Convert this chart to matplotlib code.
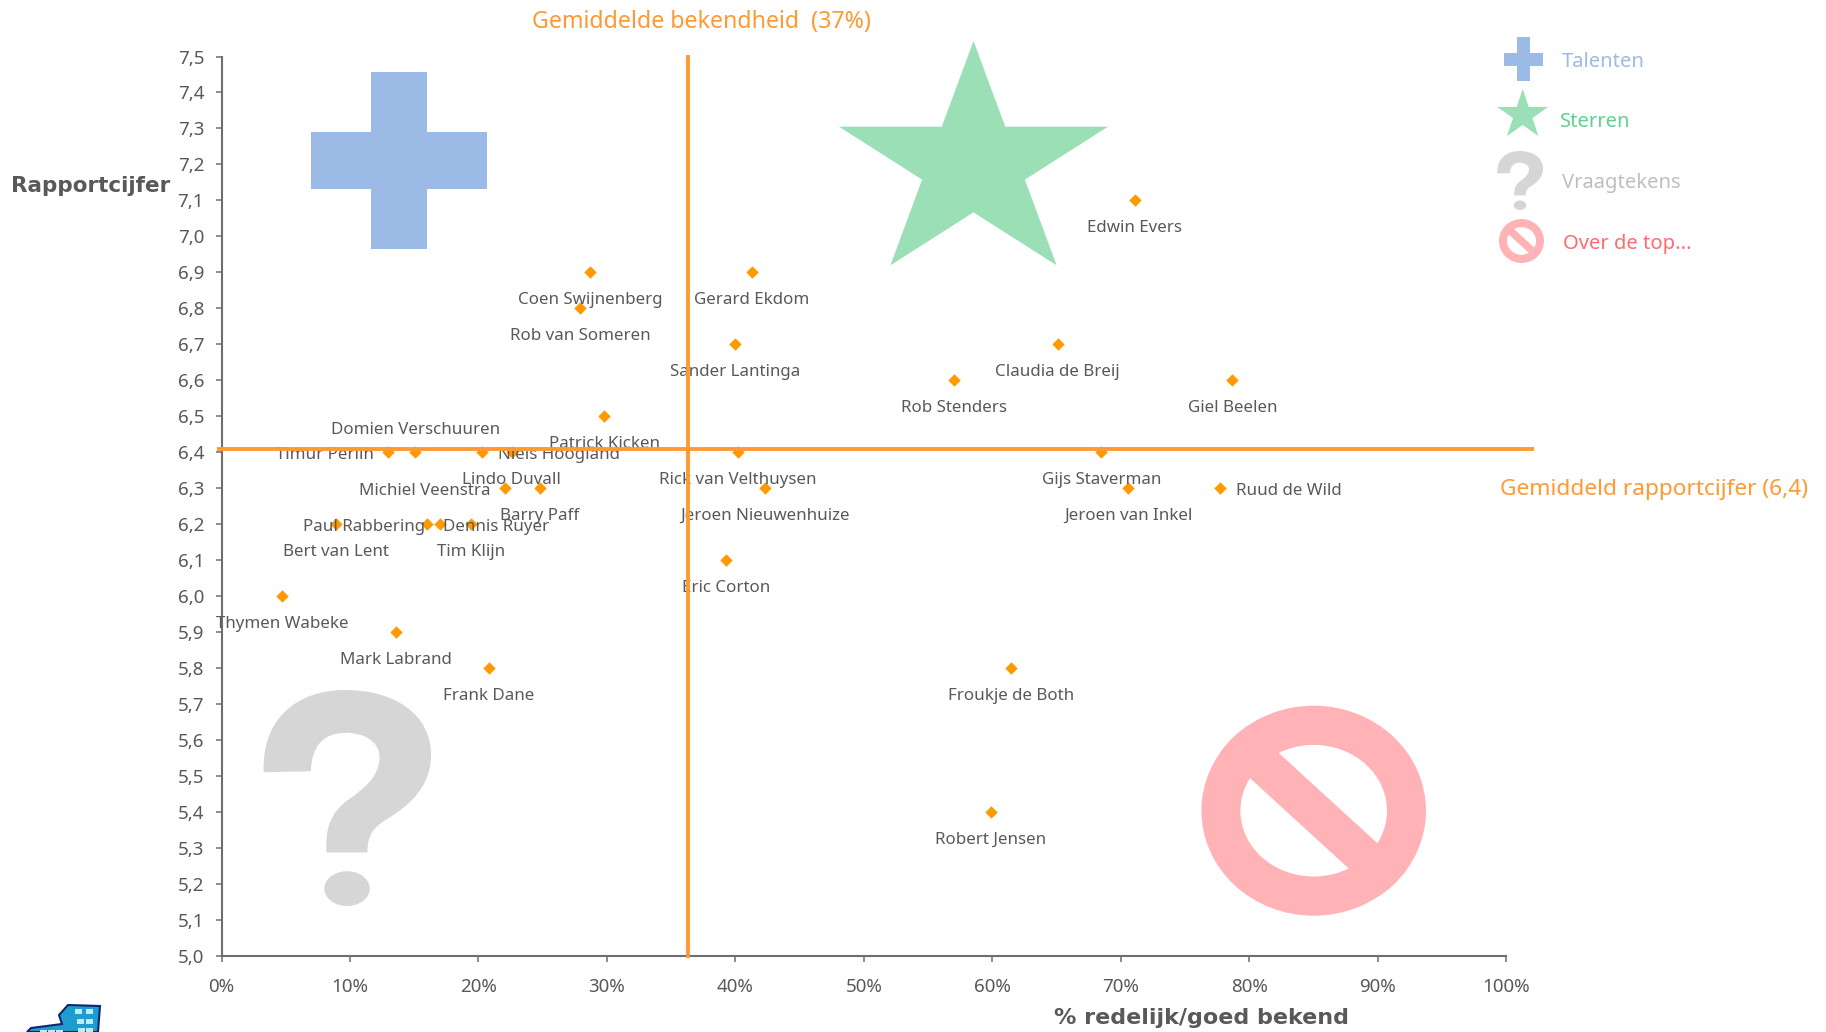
import numpy as np
import matplotlib
matplotlib.use('Agg')
import matplotlib.pyplot as plt
from matplotlib.patches import Ellipse, Polygon, PathPatch
from matplotlib.path import Path

names = ['Edwin Evers', 'Coen Swijnenberg', 'Gerard Ekdom', 'Rob van Someren', 'Sander Lantinga',
         'Claudia de Breij', 'Rob Stenders', 'Giel Beelen', 'Patrick Kicken', 'Timur Perlin',
         'Domien Verschuuren', 'Niels Hoogland', 'Lindo Duvall', 'Michiel Veenstra', 'Barry Paff',
         'Rick van Velthuysen', 'Jeroen Nieuwenhuize', 'Gijs Staverman', 'Jeroen van Inkel', 'Ruud de Wild',
         'Bert van Lent', 'Paul Rabbering', 'Dennis Ruyer', 'Tim Klijn', 'Eric Corton',
         'Thymen Wabeke', 'Mark Labrand', 'Frank Dane', 'Froukje de Both', 'Robert Jensen']
bekend = [71.1, 28.7, 41.3, 27.9, 40.0,
          65.1, 57.0, 78.7, 29.8, 13.0,
          15.1, 20.3, 22.6, 22.1, 24.8,
          40.2, 42.3, 68.5, 70.6, 77.7,
          8.9, 17.0, 16.0, 19.4, 39.3,
          4.7, 13.6, 20.8, 61.5, 59.9]
cijfer = [7.1, 6.9, 6.9, 6.8, 6.7,
          6.7, 6.6, 6.6, 6.5, 6.4,
          6.4, 6.4, 6.4, 6.3, 6.3,
          6.4, 6.3, 6.4, 6.3, 6.3,
          6.2, 6.2, 6.2, 6.2, 6.1,
          6.0, 5.9, 5.8, 5.8, 5.4]
label_side = ['b', 'b', 'b', 'b', 'b',
              'b', 'b', 'b', 'b', 'l',
              't', 'r', 'b', 'l', 'b',
              'b', 'b', 'b', 'b', 'r',
              'b', 'l', 'r', 'b', 'b',
              'b', 'b', 'b', 'b', 'b']

x_ticks = list(range(0, 101, 10))
x_labels = ['%d%%' % v for v in x_ticks]
y_ticks = [5.0 + i * 0.1 for i in range(26)]
y_labels = [('%.1f' % v).replace('.', ',') for v in y_ticks]

gem_bekend = 36.3
gem_cijfer = 6.41
hline_range = [-0.2, 102.0]

FONT = 'Noto Sans'
GREY = '#595959'
ORANGE = '#FF9933'
BLUE = '#9BBBE6'
GREEN = '#9ADFB5'
LGREY = '#D6D6D6'
PINK = '#FFB3B6'

plt.rcParams['font.family'] = FONT
fig = plt.figure(figsize=(18.26, 10.32), dpi=100)

# overlay in pixels for the icons and loose text
bg = fig.add_axes([0, 0, 1, 1], zorder=0)
bg.set_xlim(0, 1826)
bg.set_ylim(1032, 0)
bg.axis('off')


def cross(x0, x1, ax0, ax1, y0, y1, ay0, ay1, color):
    pts = [(ax0, y0), (ax1, y0), (ax1, ay0), (x1, ay0), (x1, ay1), (ax1, ay1),
           (ax1, y1), (ax0, y1), (ax0, ay1), (x0, ay1), (x0, ay0), (ax0, ay0)]
    bg.add_patch(Polygon(pts, closed=True, fc=color, ec='none'))


def star(cx, cy, rx, ry, color):
    pts = []
    for i in range(10):
        a = np.pi / 2 + i * np.pi / 5
        r = 1.0 if i % 2 == 0 else 0.382
        pts.append((cx + rx * r * np.cos(a), cy - ry * r * np.sin(a)))
    bg.add_patch(Polygon(pts, closed=True, fc=color, ec='none'))


# outline of the question mark, first point then bezier triples
q_start = (72, 308)
q_curves = [(65, 150), (170, 62), (315, 62),
            (470, 62), (572, 140), (572, 255),
            (572, 350), (510, 405), (445, 445),
            (400, 472), (382, 495), (382, 548),
            (382, 548), (260, 548), (260, 548),
            (255, 480), (270, 430), (325, 390),
            (375, 355), (418, 320), (418, 262),
            (418, 215), (370, 190), (318, 190),
            (255, 190), (215, 225), (213, 305)]


def question(x0, x1, y0, y1, color):
    sx = (x1 - x0) / 502.0
    sy = (y1 - y0) / 646.0
    pts = np.array([q_start] + q_curves + [q_start], dtype=float)
    pts = pts - [70, 62]
    pts = pts * [sx, sy] + [x0, y0]
    codes = [Path.MOVETO] + [Path.CURVE4] * len(q_curves) + [Path.CLOSEPOLY]
    bg.add_patch(PathPatch(Path(pts, codes), fc=color, ec='none'))
    bg.add_patch(Ellipse((x0 + 251 * sx, y0 + 594 * sy), 136 * sx, 104 * sy, fc=color, ec='none'))


def ban(cx, cy, rx, ry, irx, iry, bar, color):
    outer = Ellipse((cx, cy), 2 * rx, 2 * ry, fc=color, ec='none')
    bg.add_patch(outer)
    bg.add_patch(Ellipse((cx, cy), 2 * irx, 2 * iry, fc='white', ec='none'))
    d = rx * 0.72
    ln, = bg.plot([cx - d, cx + d], [cy - d * 0.915, cy + d * 0.915], color=color, lw=bar * 0.72, solid_capstyle='butt')
    ln.set_clip_path(outer)


cross(311, 487, 371, 427, 72, 249, 132, 189, BLUE)
star(973.5, 165, 141.4, 124, GREEN)
question(263, 431, 690, 906, LGREY)
ban(1313.7, 810.7, 112.3, 105, 73.3, 65.8, 38, PINK)

cross(1504, 1543, 1517, 1530, 37, 81, 53, 66, BLUE)
star(1522.7, 115, 26.7, 26, GREEN)
question(1497, 1543, 151, 210, LGREY)
ban(1521.5, 241, 22.5, 22, 14.5, 13.8, 7.6, PINK)

# logo bottom left
bg.add_patch(Polygon([(27, 1032), (31, 1028), (62, 1024), (59, 1015), (68, 1005), (100, 1006), (98, 1032)],
                     closed=True, fc='#1E9CD0', ec='#12256E', lw=1.5))
for wx, wy in [(75, 1009), (86, 1009), (77, 1019), (86, 1019), (78, 1028), (86, 1028), (40, 1030), (48, 1030), (56, 1030)]:
    bg.add_patch(Polygon([(wx, wy), (wx + 7, wy), (wx + 7, wy + 5), (wx, wy + 5)], closed=True, fc='#BFEAF7', ec='none'))

ax = fig.add_axes([221.5 / 1826, 1 - 956 / 1032, (1506 - 221.5) / 1826, (956 - 56.5) / 1032], zorder=1)
ax.patch.set_alpha(0)
ax.set_xlim(0, 100)
ax.set_ylim(5.0, 7.5)
ax.spines['top'].set_visible(False)
ax.spines['right'].set_visible(False)
for s in ['left', 'bottom']:
    ax.spines[s].set_color('#6E6E6E')
    ax.spines[s].set_linewidth(1.5)
ax.set_xticks(x_ticks)
ax.set_xticklabels(x_labels)
ax.set_yticks(y_ticks)
ax.set_yticklabels(y_labels)
ax.tick_params(axis='both', length=4.5, width=1.1, color='#6E6E6E', labelcolor=GREY, labelsize=13.5, pad=8)
ax.tick_params(axis='x', pad=11)

ax.scatter(bekend, cijfer, marker='D', s=40, color='#FF9900', linewidths=0, zorder=2)

offsets = {'b': (0, -28, 'center', 'center'), 't': (0, 22, 'center', 'center'),
           'l': (-15, -3, 'right', 'center'), 'r': (16, -3, 'left', 'center')}
for n, x, y, side in zip(names, bekend, cijfer, label_side):
    dx, dy, ha, va = offsets[side]
    ax.annotate(n, (x, y), xytext=(dx, dy), textcoords='offset pixels', ha=ha, va=va,
                fontsize=12.2, color=GREY, zorder=3)

ax.plot(hline_range, [gem_cijfer, gem_cijfer], color=ORANGE, lw=2.8, clip_on=False, zorder=4)
ax.plot([gem_bekend, gem_bekend], [5.0, 7.5], color=ORANGE, lw=2.8, clip_on=False, zorder=4)

bg.text(701, 22, 'Gemiddelde bekendheid  (37%)', color=ORANGE, fontsize=16.7, ha='center', va='center')
bg.text(1500, 490, 'Gemiddeld rapportcijfer (6,4)', color=ORANGE, fontsize=16.3, ha='left', va='center')
bg.text(11, 186, 'Rapportcijfer', family='DejaVu Sans', color=GREY, fontsize=15.5, fontweight='bold', ha='left', va='center')
bg.text(1202, 1018, '% redelijk/goed bekend', family='DejaVu Sans', color=GREY, fontsize=16, fontweight='bold', ha='center', va='center')

bg.text(1562, 62, 'Talenten', color='#9DBBE3', fontsize=14.5, va='center')
bg.text(1560, 122, 'Sterren', color='#5FD190', fontsize=14.5, va='center')
bg.text(1562, 183, 'Vraagtekens', color='#BFBFBF', fontsize=14.5, va='center')
bg.text(1563, 244, 'Over de top...', color='#FF6B6F', fontsize=14.5, va='center')

fig.savefig('out.png', dpi=100)
